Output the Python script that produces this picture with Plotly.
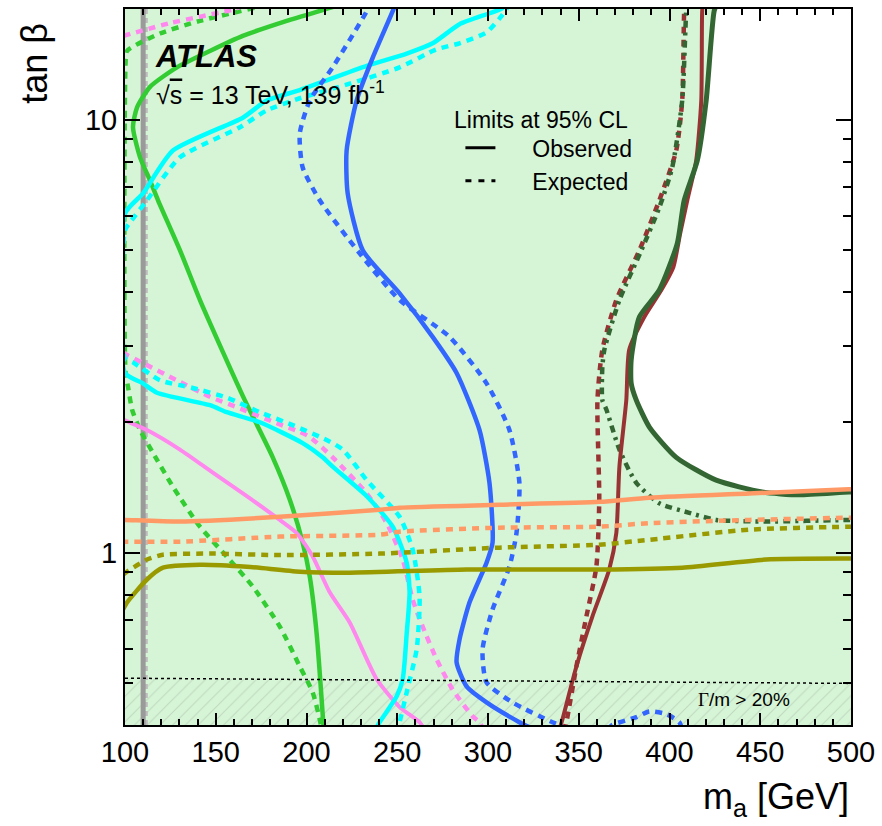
import plotly.graph_objects as go

# ---------------- data (m_a [GeV], tan beta) ----------------
ma_grn_obs = [229.0, 212.8, 189.1, 164.9, 146.8, 128.6, 113.8, 106.6, 104.4, 108.3, 113.8, 118.2, 130.3, 141.3, 153.4, 166.0, 181.4, 190.8, 197.9, 201.8, 205.6, 209.5]
tb_grn_obs = [19.0, 18.1, 16.9, 15.6, 14.4, 13.2, 11.9, 10.66, 9.6, 8.18, 7.23, 6.51, 4.99, 3.83, 2.94, 2.25, 1.66, 1.325, 1.054, 0.88, 0.65, 0.39]
ma_grn_exp = [192.0, 175.9, 141.3, 119.3, 101.1, 100.3, 100.3, 101.7, 103.9, 108.3, 115.4, 126.4, 141.3, 156.1, 170.4, 185.3, 196.3, 203.4, 207.3, 208.4]
tb_grn_exp = [19.0, 18.3, 16.9, 15.8, 14.4, 13.5, 2.6, 2.41, 2.14, 1.92, 1.70, 1.42, 1.148, 0.979, 0.835, 0.675, 0.546, 0.476, 0.412, 0.39]

ma_pnk_obs = [99.0, 100.0, 112.1, 130.3, 148.4, 167.1, 185.3, 194.6, 203.4, 212.8, 223.8, 238.7, 251.3, 262.3, 265.0]
tb_pnk_obs = [2.03, 2.02, 1.92, 1.73, 1.53, 1.35, 1.19, 1.11, 0.98, 0.81, 0.69, 0.51, 0.44, 0.406, 0.39]
ma_pnk_exp = [99.0, 124.8, 160.5, 168.8, None,
              99.0, 101.1, 109.9, 128.6, 146.8, 164.9, 183.6, 196.3, 201.8, 214.4, 233.2, 244.2, 253.0, 258.5, 264.0, 271.7, 280.5, 291.5, 295.3, 297.5]
tb_pnk_exp = [15.6, 16.7, 18.0, 18.6, None,
              2.9, 2.86, 2.74, 2.50, 2.29, 2.14, 1.99, 1.90, 1.85, 1.66, 1.37, 1.17, 0.964, 0.779, 0.675, 0.567, 0.483, 0.419, 0.406, 0.39]

ma_cyn_obs = [309.0, 308.0, 300.8, 284.3, 269.5, 255.2, 233.2, 196.3, 178.1, 164.9, 126.4, 109.9, 100.0, 100.0, 109.9, 117.6, 146.8, 156.1, 174.3, 197.9, 208.9, 214.4, 233.2, 247.5, 255.2, 256.8, 255.2, 253.0, 249.7, 240.3, 238.1]
tb_cyn_obs = [18.8, 18.1, 17.6, 16.6, 15.0, 14.2, 13.3, 11.7, 11.06, 10.1, 8.48, 6.75, 6.07, 2.60, 2.46, 2.34, 2.19, 2.11, 2.00, 1.79, 1.66, 1.58, 1.35, 1.148, 0.948, 0.809, 0.65, 0.510, 0.466, 0.406, 0.39]
ma_cyn_exp = [311.3, 310.2, 306.3, 299.2, 284.3, 273.3, 269.5, 251.3, 223.8, 196.3, 178.1, 163.3, 130.3, 112.1, 102.8, 100.0, 100.0, 104.4, 119.3, 137.4, 156.1, 174.3, 192.4, 211.1, 220.0, 233.2, 251.3, 258.5, 262.3, 260.7, 255.2, 251.3, 250.2]
tb_cyn_exp = [18.6, 18.0, 17.1, 15.9, 15.0, 14.6, 14.4, 13.2, 12.1, 11.2, 10.5, 9.6, 8.18, 6.51, 5.79, 5.55, 2.81, 2.75, 2.50, 2.40, 2.28, 2.11, 1.97, 1.82, 1.73, 1.47, 1.21, 1.016, 0.792, 0.598, 0.476, 0.406, 0.39]

ma_blu_obs = [249.7, 247.5, 236.5, 227.6, 222.1, 222.7, 231.0, 251.3, 269.5, 282.7, 295.3, 300.8, 302.5, 299.2, 289.8, 284.3, 282.7, 288.2, 299.2, 317.3, 325.6]
tb_blu_obs = [18.8, 17.8, 13.9, 11.06, 8.48, 6.75, 4.99, 3.97, 3.15, 2.60, 1.92, 1.45, 1.054, 0.948, 0.767, 0.630, 0.558, 0.491, 0.451, 0.406, 0.39]
ma_blu_exp = [235.4, 233.2, 214.4, 201.8, 196.3, 197.9, 207.3, 229.3, 251.3, 278.8, 299.2, 311.8, 317.3, 315.7, 311.8, 302.5, 297.0, 299.2, 313.5, 335.5, 342.1, None,
              366.0, 368.5, 381.7, 388.9, 398.2, 405.4, 407.0]
tb_blu_exp = [18.8, 17.8, 13.2, 11.06, 9.29, 7.75, 6.51, 4.91, 3.83, 3.15, 2.46, 1.92, 1.45, 1.11, 0.928, 0.739, 0.598, 0.502, 0.451, 0.406, 0.396, None,
              0.39, 0.40, 0.417, 0.43, 0.424, 0.406, 0.39]

ma_red_obs = [418.6, 418.0, 417.5, 414.7, 409.8, 405.9, 402.1, 395.5, 386.1, 377.8, 376.2, 372.4, 370.7, 366.8, 357.5, 348.7, 341.0, 339.3]
tb_red_obs = [18.8, 17.8, 11.06, 8.04, 6.51, 5.46, 4.56, 4.04, 3.50, 2.94, 2.25, 1.58, 1.11, 0.914, 0.712, 0.546, 0.412, 0.39]
ma_red_exp = [408.7, 408.1, 407.0, 403.7, 394.4, 383.4, 370.7, 363.0, 360.3, 361.3, 359.7, 354.2, 348.7, 343.2, 342.1]
tb_red_exp = [18.8, 17.8, 11.06, 8.48, 6.51, 4.99, 3.83, 2.94, 2.25, 1.325, 0.928, 0.712, 0.546, 0.406, 0.39]

ma_dkg_obs = [426.8, 424.6, 420.2, 415.3, 408.1, 404.3, 394.4, 383.4, 378.9, 378.9, 381.7, 388.9, 403.7, 425.7, 451.0, 471.4, 498.9, 504.4]
tb_dkg_obs = [18.8, 17.8, 11.06, 8.04, 6.51, 5.18, 4.04, 3.50, 2.79, 2.46, 2.25, 1.95, 1.66, 1.47, 1.38, 1.36, 1.38, 1.38]
ma_dkg_exp = [409.8, 409.2, 407.0, 401.5, 394.4, 384.5, 372.4, 364.1, 363.0, 363.0, 365.2, 372.4, 381.7, 394.4, 410.9, 425.7, 453.2, 498.9, 504.4]
tb_dkg_exp = [18.8, 17.8, 11.06, 7.75, 6.27, 4.99, 3.83, 2.94, 2.68, 2.25, 2.14, 1.73, 1.45, 1.30, 1.236, 1.19, 1.18, 1.19, 1.19]

ma_sal_obs = [98.0, 100.0, 130.3, 185.3, 240.3, 251.3, 306.3, 361.3, 388.9, 443.9, 498.9, 502.0]
tb_sal_obs = [1.19, 1.19, 1.18, 1.21, 1.256, 1.27, 1.29, 1.31, 1.339, 1.37, 1.40, 1.40]
ma_sal_exp = [98.0, 100.0, 130.3, 185.3, 240.3, 251.3, 306.3, 361.3, 388.9, 443.9, 498.9, 502.0]
tb_sal_exp = [1.06, 1.06, 1.06, 1.089, 1.10, 1.118, 1.142, 1.148, 1.17, 1.19, 1.204, 1.204]

ma_olv_obs = [99.0, 101.1, 112.1, 120.9, 141.3, 167.1, 196.3, 223.8, 288.2, 361.3, 407.0, 453.2, 498.9, 502.0]
tb_olv_obs = [0.74, 0.767, 0.867, 0.923, 0.938, 0.928, 0.904, 0.899, 0.914, 0.914, 0.923, 0.964, 0.969, 0.969]
ma_olv_exp = [99.0, 101.1, 112.1, 120.9, 148.4, 185.3, 240.3, 306.3, 361.3, 388.9, 443.9, 498.9, 502.0]
tb_olv_exp = [0.89, 0.904, 0.964, 0.989, 0.995, 0.987, 0.995, 1.027, 1.043, 1.071, 1.13, 1.148, 1.148]

ma_gray = [110.0, 110.0]
tb_gray = [0.3, 20.0]

ma_width = [100.0, 500.0]
tb_width = [0.513, 0.499]

x_range = [100, 500]
x_major = [100, 150, 200, 250, 300, 350, 400, 450, 500]
y_range_log = [-0.39794, 1.25527]   # 0.4 .. 18
y_major = [1, 10]
y_major_text = ["1", "10"]
y_minor = [0.4, 0.5, 0.6, 0.7, 0.8, 0.9, 2, 3, 4, 5, 6, 7, 8, 9]

# ---------------- styles ----------------
FONT = "Liberation Sans, Arial, Helvetica, sans-serif"
DASH = "7px,6px"
C_GRN, C_PNK, C_CYN, C_BLU = "#33cc33", "#ff88ee", "#00ffff", "#3366ff"
C_RED, C_DKG, C_SAL, C_OLV = "#993333", "#336633", "#ff9966", "#999900"

fig = go.Figure()

# hatched region (Gamma/m > 20%)
fig.add_trace(go.Scatter(
    x=[ma_width[0], ma_width[0], ma_width[1], ma_width[1]],
    y=[0.3, tb_width[0], tb_width[1], 0.3],
    fill="toself", mode="none", fillcolor="rgba(0,0,0,0)",
    fillpattern=dict(shape="/", fgcolor="#aabbaa", size=9, solidity=0.12),
    showlegend=False, hoverinfo="skip"))

# white (not excluded) region to the right of the dark green observed contour
fig.add_trace(go.Scatter(
    x=ma_dkg_obs + [ma_dkg_obs[-1], ma_dkg_obs[0]],
    y=tb_dkg_obs + [tb_dkg_obs[0], tb_dkg_obs[0]],
    fill="toself", mode="none", fillcolor="white",
    showlegend=False, hoverinfo="skip"))

def line(x, y, color, width=4, dash="solid", shape="spline"):
    fig.add_trace(go.Scatter(
        x=x, y=y, mode="lines",
        line=dict(color=color, width=width, dash=dash, shape=shape, smoothing=0.6),
        connectgaps=False, showlegend=False, hoverinfo="skip"))

# gray line at 110 GeV
line([v + 1.2 for v in ma_gray], tb_gray, "#bdbdbd", 5, "5px,4px", "linear")
line(ma_gray, tb_gray, "#9a9a9a", 5, "solid", "linear")

line(ma_grn_exp, tb_grn_exp, C_GRN, 4.5, DASH)
line(ma_grn_obs, tb_grn_obs, C_GRN, 4.5)
line(ma_pnk_exp, tb_pnk_exp, C_PNK, 4.5, DASH)
line(ma_pnk_obs, tb_pnk_obs, C_PNK, 4)
line(ma_cyn_exp, tb_cyn_exp, C_CYN, 4.5, DASH)
line(ma_cyn_obs, tb_cyn_obs, C_CYN, 4.5)
line(ma_blu_exp, tb_blu_exp, C_BLU, 4.5, DASH)
line(ma_blu_obs, tb_blu_obs, C_BLU, 4.5)
line(ma_red_exp, tb_red_exp, C_RED, 4.5, DASH)
line(ma_dkg_exp, tb_dkg_exp, C_DKG, 4.5, "7px,5px,3px,5px")
line(ma_red_obs, tb_red_obs, C_RED, 4)
line(ma_dkg_obs, tb_dkg_obs, C_DKG, 5)
line(ma_sal_exp, tb_sal_exp, C_SAL, 4.5, DASH)
line(ma_sal_obs, tb_sal_obs, C_SAL, 4.5)
line(ma_olv_exp, tb_olv_exp, C_OLV, 4.5, DASH)
line(ma_olv_obs, tb_olv_obs, C_OLV, 4.5)

# Gamma/m = 20% boundary
line(ma_width, tb_width, "black", 1.5, "dot", "linear")

# legend entries
nb = "\u00a0" * 5
fig.add_trace(go.Scatter(x=[None], y=[None], mode="lines", name=nb + "Observed",
                         line=dict(color="black", width=3)))
fig.add_trace(go.Scatter(x=[None], y=[None], mode="lines", name=nb + "Expected",
                         line=dict(color="black", width=3, dash="6px,7px")))

axis_common = dict(showline=True, linecolor="black", linewidth=2, mirror="ticks",
                   ticks="inside", tickcolor="black", tickwidth=1.5,
                   showgrid=False, zeroline=False,
                   tickfont=dict(family=FONT, size=29, color="black"))

fig.update_layout(
    width=882, height=826,
    margin=dict(l=125, r=30, t=7, b=101),
    paper_bgcolor="white", plot_bgcolor="#d6f5d6",
    xaxis=dict(range=x_range, tickvals=x_major,
               ticklen=12, minor=dict(dtick=10, ticks="inside", ticklen=6, tickcolor="black", tickwidth=1.5),
               **axis_common),
    yaxis=dict(type="log", range=y_range_log, tickvals=y_major, ticktext=y_major_text,
               ticklen=15, minor=dict(tickvals=y_minor, ticks="inside", ticklen=8, tickcolor="black", tickwidth=1.5),
               **axis_common),
    showlegend=True,
    legend=dict(x=0.462, y=0.836, xanchor="left", yanchor="top", bgcolor="rgba(0,0,0,0)",
                font=dict(family=FONT, size=23, color="black"), tracegroupgap=0, itemwidth=30),
    annotations=[
        dict(text="<b><i>ATLAS</i></b>", x=0.038, y=0.933, xref="paper", yref="paper",
             xanchor="left", yanchor="middle", showarrow=False,
             font=dict(family=FONT, size=31, color="black")),
        dict(text="√<span style='text-decoration:overline'>s</span> = 13 TeV, 139 fb<sup>-1</sup>",
             x=0.040, y=0.882, xref="paper", yref="paper",
             xanchor="left", yanchor="middle", showarrow=False,
             font=dict(family=FONT, size=25, color="black")),
        dict(text="Limits at 95% CL", x=0.451, y=0.8454, xref="paper", yref="paper",
             xanchor="left", yanchor="middle", showarrow=False,
             font=dict(family=FONT, size=23, color="black")),
        dict(text='<span style="font-family:Liberation Serif">Γ</span>/m > 20%', x=0.853, y=0.035,
             xref="paper", yref="paper", xanchor="center", yanchor="middle", showarrow=False,
             font=dict(family=FONT, size=19, color="black")),
        dict(text="tan β", x=-0.124, y=0.925, xref="paper", yref="paper", textangle=-90,
             xanchor="center", yanchor="middle", showarrow=False,
             font=dict(family=FONT, size=36, color="black")),
        dict(text="m<sub>a</sub> [GeV]", x=1.0, y=-0.104, xref="paper", yref="paper",
             xanchor="right", yanchor="middle", showarrow=False,
             font=dict(family=FONT, size=36, color="black")),
    ],
)

fig.write_html("out.html")
